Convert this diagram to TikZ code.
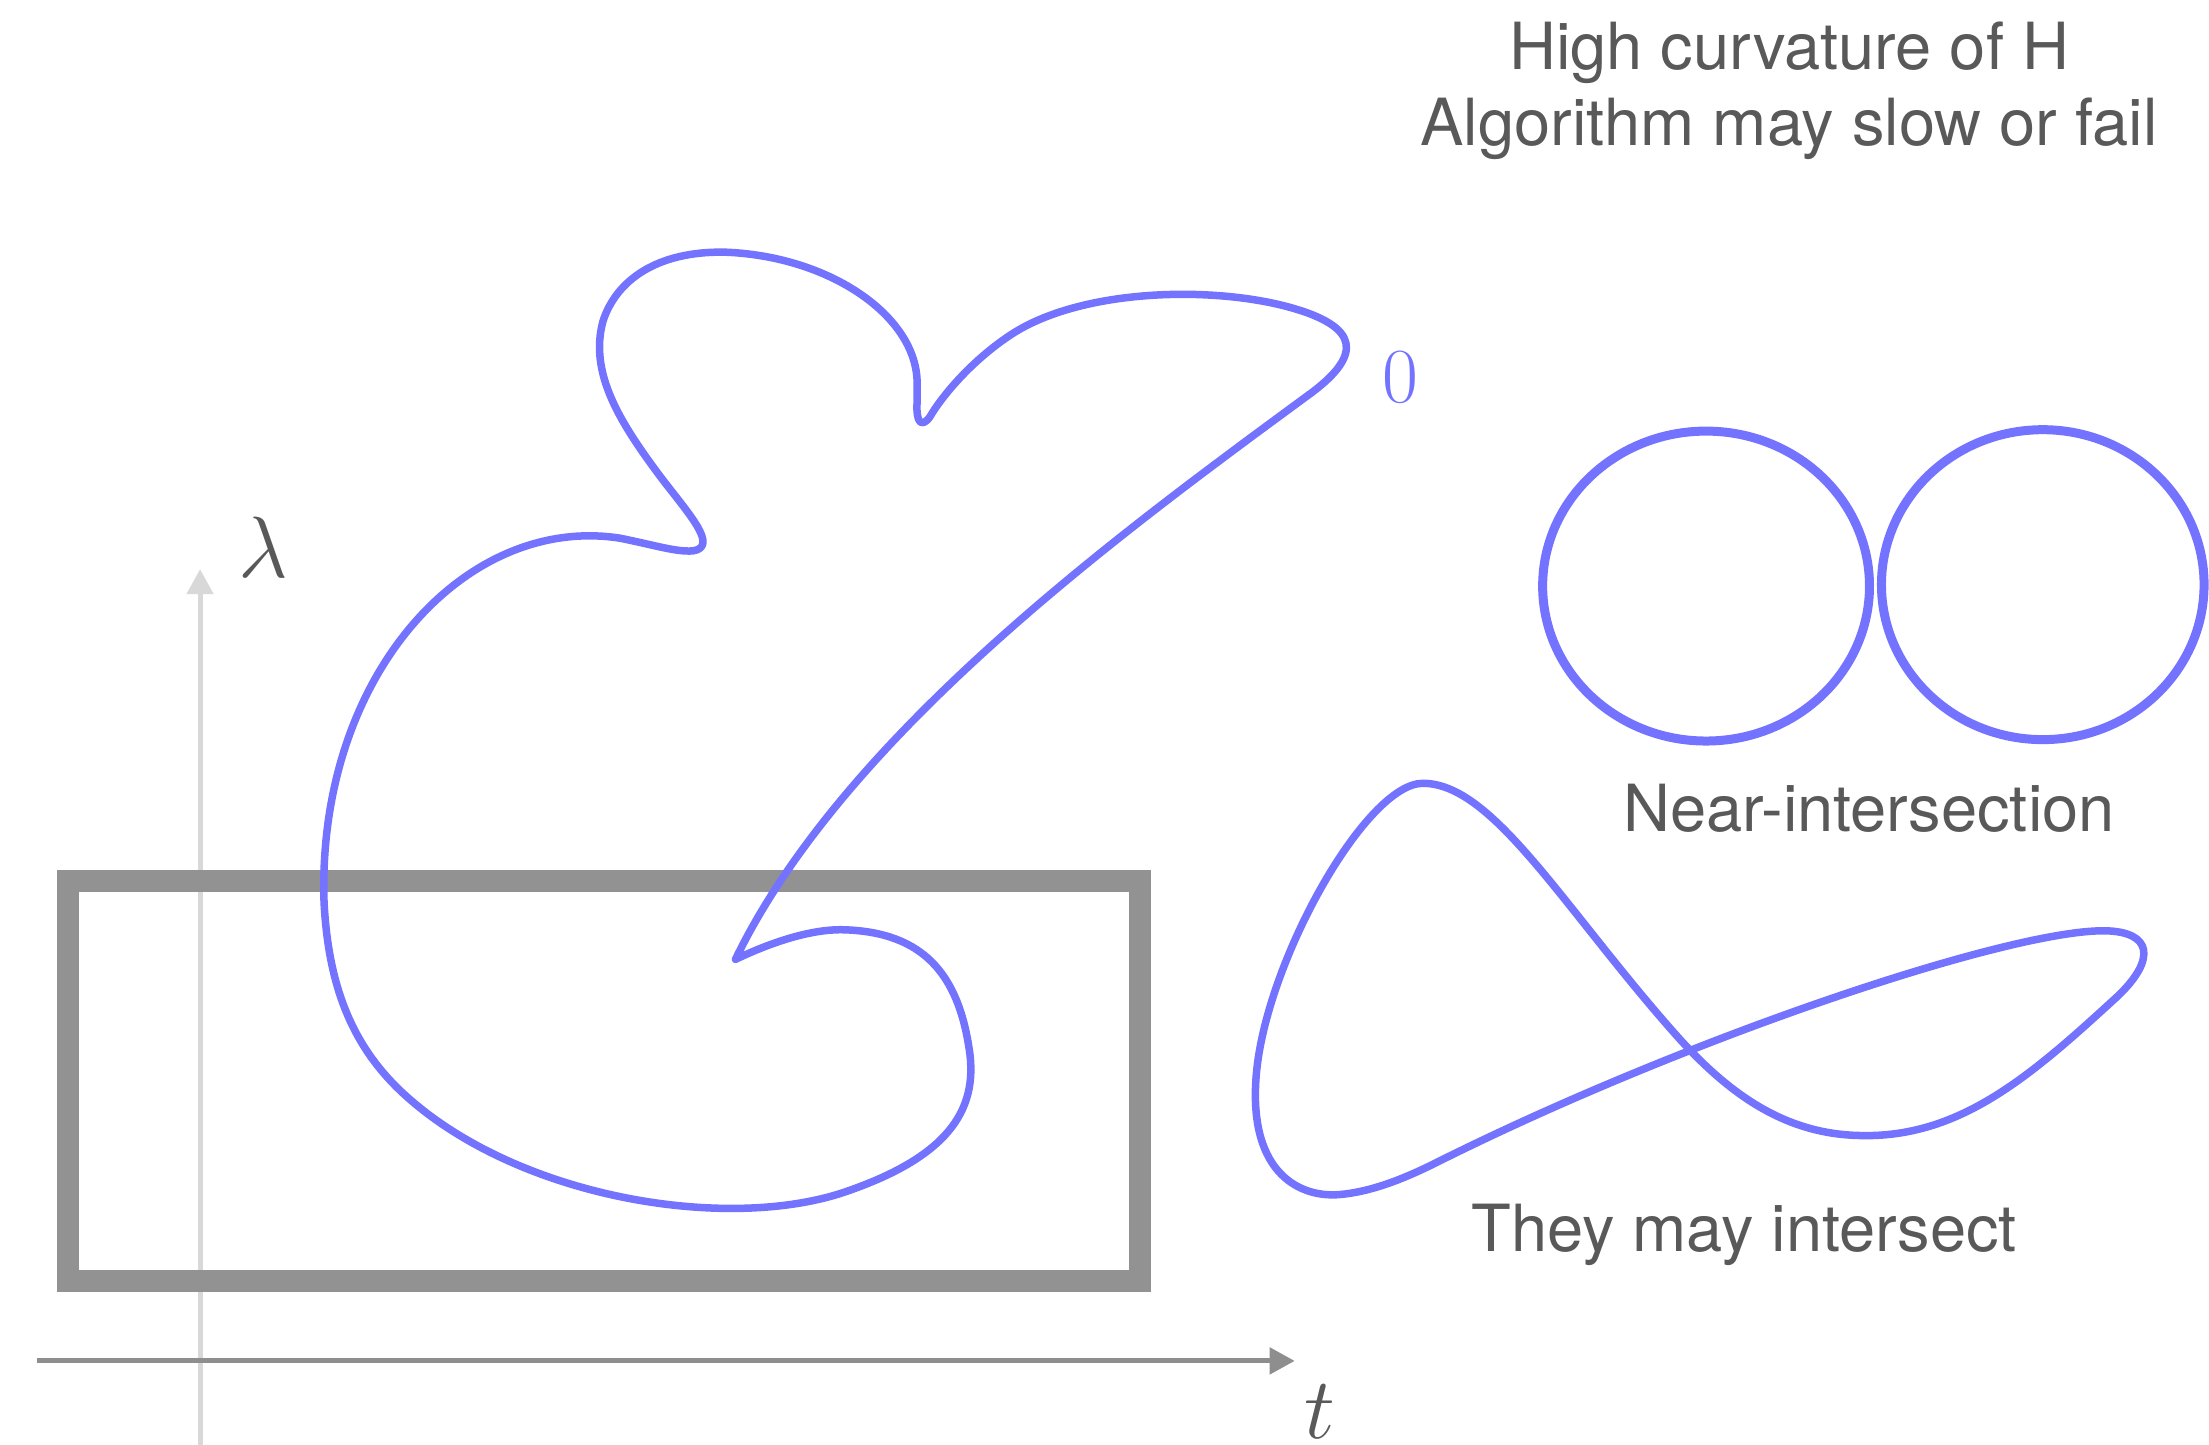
\documentclass[tikz,border=0pt]{standalone}
\usepackage{fontspec}
\newfontfamily\heros{TeX Gyre Heros}
\usetikzlibrary{arrows.meta}
\definecolor{curveblue}{RGB}{115,115,255}
\definecolor{boxgray}{RGB}{146,146,146}
\definecolor{haxis}{RGB}{142,142,142}
\definecolor{vaxis}{RGB}{216,216,216}
\definecolor{txtgray}{RGB}{89,89,89}
\tikzset{
  curve/.style={draw=curveblue, line width=7.5pt, line join=round, line cap=round},
  ring/.style={draw=curveblue, line width=9pt},
  label/.style={font=\heros\fontsize{65}{78}\selectfont, text=txtgray, inner sep=0pt, anchor=base},
  mathlbl/.style={text=txtgray, inner sep=0pt, scale=3.5, font=\Huge}
}
\begin{document}
\begin{tikzpicture}[x=1.4088pt,y=-1.4088pt]
\useasboundingbox (0,0) rectangle (1568,1025);
% axes
\coordinate (hs) at (26,966);
\coordinate (he) at (919,966);
\coordinate (vs) at (142,1030);
\coordinate (ve) at (142,404);
\draw[vaxis, line width=5pt, -{Triangle[length=25pt,width=26pt]}] (vs) -- (ve);
\draw[haxis, line width=5pt, -{Triangle[length=25pt,width=26pt]}] (hs) -- (he);
\node[mathlbl] (lam) at (186.7,388.3) {$\lambda$};
\node[mathlbl] (tl) at (937,1002) {$t$};
% box
\node[draw=boxgray, line width=22pt, minimum width=761*1.4088pt, minimum height=284*1.4088pt, inner sep=0pt] (box) at (428.5,767) {};
% blob
\draw[curve] (522,681) .. controls (600,520) and (800,375) .. (932,278)
  .. controls (966,252) and (966,232) .. (915,218)
  .. controls (860,203) and (770,205) .. (720,236)
  .. controls (690,255) and (668,282) .. (660,296)
  .. controls (654,304) and (650,300) .. (651,285)
  -- (651,272)
  .. controls (651,225) and (590,182) .. (515,179)
  .. controls (465,178) and (437,200) .. (428,228)
  .. controls (418,265) and (440,300) .. (470,340)
  .. controls (490,366) and (510,388) .. (492,391)
  .. controls (480,392) and (465,387) .. (440,382)
  .. controls (330,365) and (225,480) .. (230,640)
  .. controls (233,700) and (250,742) .. (285,775)
  .. controls (365,850) and (515,875) .. (600,846)
  .. controls (670,822) and (695,790) .. (688,745)
  .. controls (680,691) and (655,662) .. (600,660)
  .. controls (575,659) and (545,670) .. (522,681);
\node[text=curveblue, inner sep=0pt, font=\fontsize{78}{78}\selectfont] (zero) at (993.8,267.6) {0};
% circles
\draw[ring] (1211,416) ellipse[x radius=116, y radius=110];
\draw[ring] (1450,415) ellipse[x radius=114.5, y radius=110];
% figure eight
\draw[curve] (1010,556) .. controls (970,556) and (900,680) .. (892,760)
  .. controls (885,830) and (920,850) .. (950,848)
  .. controls (975,846) and (1000,835) .. (1020,825)
  .. controls (1200,735) and (1440,655) .. (1500,661)
  .. controls (1530,664) and (1528,685) .. (1500,710)
  .. controls (1440,765) and (1390,808) .. (1320,806)
  .. controls (1270,805) and (1230,780) .. (1190,735)
  .. controls (1110,645) and (1060,556) .. (1010,556) -- cycle;
% texts
\node[label] (t1) at (1270,49) {High curvature of H};
\node[label] (t2) at (1270,103.6) {Algorithm may slow or fail};
\node[label] (t3) at (1326.7,590) {Near-intersection};
\node[label] (t4) at (1238,888) {They may intersect};
\end{tikzpicture}
\end{document}
